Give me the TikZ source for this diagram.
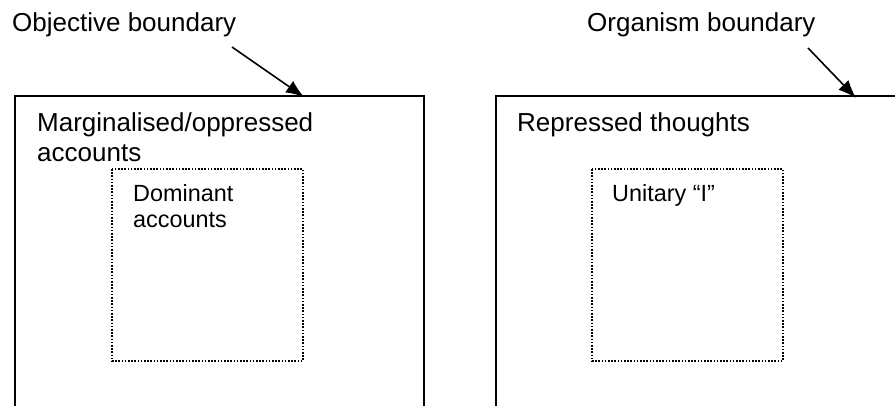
\documentclass[tikz,border=0pt]{standalone}
\usepackage{fontspec}
\setmainfont{Liberation Sans}
\usetikzlibrary{arrows.meta}
\begin{document}
\begin{tikzpicture}[x=1pt,y=-1pt,
  bigtext/.style={inner sep=0pt,anchor=base west,font=\fontsize{26}{30}\selectfont,align=left},
  smalltext/.style={inner sep=0pt,anchor=base west,font=\fontsize{23.4}{26}\selectfont,align=left},
  boundary/.style={line width=1.8pt},
  innerbox/.style={line width=1.6pt,dash pattern=on 1.6pt off 1.6pt},
  pointer/.style={line width=1.6pt,-{Latex[length=18pt,width=14pt]}}]
\useasboundingbox (0,0) rectangle (895,406);

% outer boundaries (open at the bottom / right)
\draw[boundary] (15,406) -- (15,96) -- (424,96) -- (424,406);
\draw[boundary] (496,406) -- (496,96) -- (895,96);

% inner dotted boxes
\draw[innerbox] (112,169) rectangle (303,361);
\draw[innerbox] (592,169) rectangle (783,361);

% labels (multi-line nodes are placed by the baseline of their last line)
\node[bigtext] (objlabel) at (12,32) {Objective boundary};
\node[bigtext] (orglabel) at (587,32) {Organism boundary};
\node[bigtext] (marg) at (37,162) {Marginalised/oppressed\\accounts};
\node[bigtext] (repr) at (517,132) {Repressed thoughts};
\node[smalltext] (dom) at (133,228) {Dominant\\accounts};
\node[smalltext] (unit) at (612,202) {Unitary “I”};

% pointers to the boundaries
\coordinate (objfrom) at (232,47);
\coordinate (objto) at (304,97);
\coordinate (orgfrom) at (808,48);
\coordinate (orgto) at (856,98);
\draw[pointer] (objfrom) -- (objto);
\draw[pointer] (orgfrom) -- (orgto);
\end{tikzpicture}
\end{document}
